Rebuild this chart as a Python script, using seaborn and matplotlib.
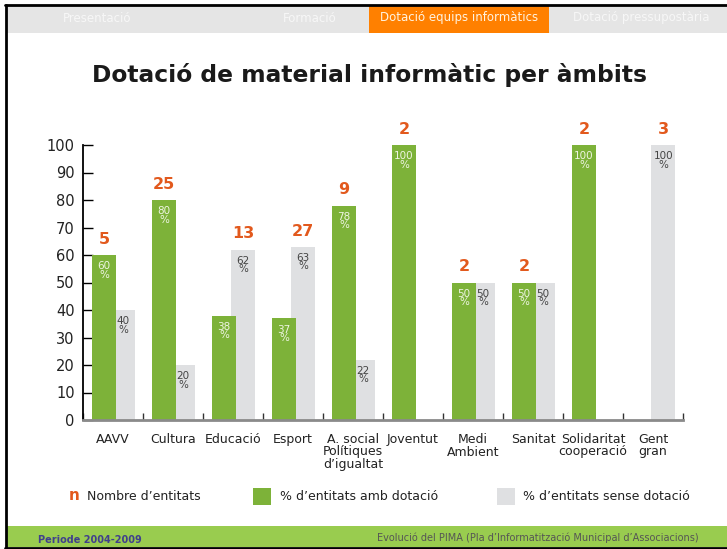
import numpy as np
import pandas as pd
import seaborn as sns
import matplotlib.pyplot as plt
from matplotlib.patches import Rectangle
from matplotlib.transforms import blended_transform_factory

ambits = ['AAVV', 'Cultura', 'Educació', 'Esport', 'A. social\nPolítiques\nd’igualtat',
          'Joventut', 'Medi\nAmbient', 'Sanitat', 'Solidaritat\ncooperació', 'Gent\ngran']
amb_dotacio = [60, 80, 38, 37, 78, 100, 50, 50, 100, np.nan]
sense_dotacio = [40, 20, 62, 63, 22, np.nan, 50, 50, np.nan, 100]
nombre = [5, 25, 13, 27, 9, 2, 2, 2, 2, 3]
pestanyes = ['Presentació', 'Formació', 'Dotació equips informàtics', 'Dotació pressupostària']

verd = '#7db239'
gris = '#dfe0e2'
taronja = '#e2591d'

sns.set_style('white')
plt.rcParams['font.family'] = ['DejaVu Sans']

W, H = 727, 549
fig = plt.figure(figsize=(W / 100, H / 100), dpi=100)

def fx(x):
    return x / W

def fy(y):
    return 1 - y / H

def rect(x0, y0, x1, y1, color):
    fig.patches.append(Rectangle((fx(x0), fy(y1)), fx(x1 - x0), (y1 - y0) / H,
                                 transform=fig.transFigure, color=color, zorder=0, lw=0))

# header tabs
rect(6, 6, W, 33, '#e5e5e5')
rect(369, 6, 549, 33, '#ff8000')
for txt, cx in zip(pestanyes, [97, 310, 459, 641]):
    fig.text(fx(cx), fy(18), txt, ha='center', va='center', fontsize=8.5,
             color='#f7f7f7' if cx != 459 else '#fff3e0')
# frame lines
fig.add_artist(plt.Line2D([fx(5), 1], [fy(5), fy(5)], color='black', lw=2, transform=fig.transFigure))
fig.add_artist(plt.Line2D([fx(6), fx(6)], [fy(5), fy(548)], color='black', lw=2, transform=fig.transFigure))
# footer
rect(7, 526, W, 547, '#99cc4f')
fig.add_artist(plt.Line2D([fx(5), 1], [fy(548), fy(548)], color='black', lw=2, transform=fig.transFigure))
fig.text(fx(38), fy(540), 'Periode 2004-2009', ha='left', va='center', fontsize=7,
         color='#40408c', fontweight='bold')
fig.text(fx(377), fy(538), 'Evolució del PIMA (Pla d’Informatització Municipal d’Associacions)',
         ha='left', va='center', fontsize=7, color='#555555')

# title
fig.text(fx(370), fy(75), 'Dotació de material informàtic per àmbits', ha='center', va='center',
         fontsize=16.8, fontweight='bold', color='#1a1a1a')

# chart
ax = fig.add_axes([fx(83), fy(420), fx(600), 275 / H])
pos = np.arange(len(ambits))
df = pd.DataFrame({'pos': pos, 'amb': amb_dotacio, 'sense': sense_dotacio})
d_sense = df.dropna(subset=['sense'])
d_amb = df.dropna(subset=['amb'])
sns.barplot(x=d_sense['pos'] + 0.17, y=d_sense['sense'], native_scale=True, width=0.4,
            color=gris, saturation=1, linewidth=0, ax=ax, zorder=2)
sns.barplot(x=d_amb['pos'] - 0.15, y=d_amb['amb'], native_scale=True, width=0.4,
            color=verd, saturation=1, linewidth=0, ax=ax, zorder=3)

ax.set_xlim(-0.5, len(ambits) - 0.5)
ax.set_ylim(0, 100)
ax.set_xlabel('')
ax.set_ylabel('')
ax.set_yticks(range(0, 101, 10))
ax.tick_params(axis='y', direction='in', length=7, width=1, color='black',
               labelsize=10.5, labelcolor='#222222', pad=6, left=True)
ax.set_xticks(np.arange(-0.5, len(ambits), 1))
ax.set_xticklabels([])
ax.tick_params(axis='x', direction='in', length=5, width=1, color='#333333', bottom=True)
for s in ['top', 'right']:
    ax.spines[s].set_visible(False)
ax.spines['left'].set_color('black')
ax.spines['left'].set_linewidth(1.3)
ax.spines['bottom'].set_color('#8a8a8a')
ax.spines['bottom'].set_linewidth(2)
ax.spines['bottom'].set_zorder(5)

# values inside bars
for i, (a, s) in enumerate(zip(amb_dotacio, sense_dotacio)):
    if not np.isnan(a):
        ax.text(i - 0.15, a - 2.3, f'{a:.0f}\n%', ha='center', va='top', fontsize=7.5,
                color='#eef5e2', linespacing=0.8, zorder=6)
    if not np.isnan(s):
        ax.text(i + 0.17, s - 2.3, f'{s:.0f}\n%', ha='center', va='top', fontsize=7.5,
                color='#444444', linespacing=0.8, zorder=6)
    # number of entities above the taller bar
    aa = 0 if np.isnan(a) else a
    ss = 0 if np.isnan(s) else s
    xn = i - 0.15 if aa >= ss else i + 0.17
    ax.text(xn, max(aa, ss) + 3, str(nombre[i]), ha='center', va='bottom', fontsize=11.5,
            fontweight='bold', color=taronja, clip_on=False)

# category labels
tr = blended_transform_factory(ax.transData, fig.transFigure)
for i, lab in enumerate(ambits):
    ax.text(i, fy(433), lab, transform=tr, ha='center', va='top', fontsize=9,
            color='#222222', linespacing=0.95, multialignment='center', clip_on=False)

# legend
fig.text(fx(69), fy(496), 'n', ha='left', va='center', fontsize=11, fontweight='bold', color=taronja)
fig.text(fx(87), fy(496), 'Nombre d’entitats', ha='left', va='center', fontsize=9, color='#222222')
rect(253, 488, 271, 505, verd)
fig.text(fx(280), fy(496), '% d’entitats amb dotació', ha='left', va='center', fontsize=9, color='#222222')
rect(497, 488, 515, 505, gris)
fig.text(fx(523), fy(496), '% d’entitats sense dotació', ha='left', va='center', fontsize=9, color='#222222')

fig.savefig('out.png', dpi=100)
